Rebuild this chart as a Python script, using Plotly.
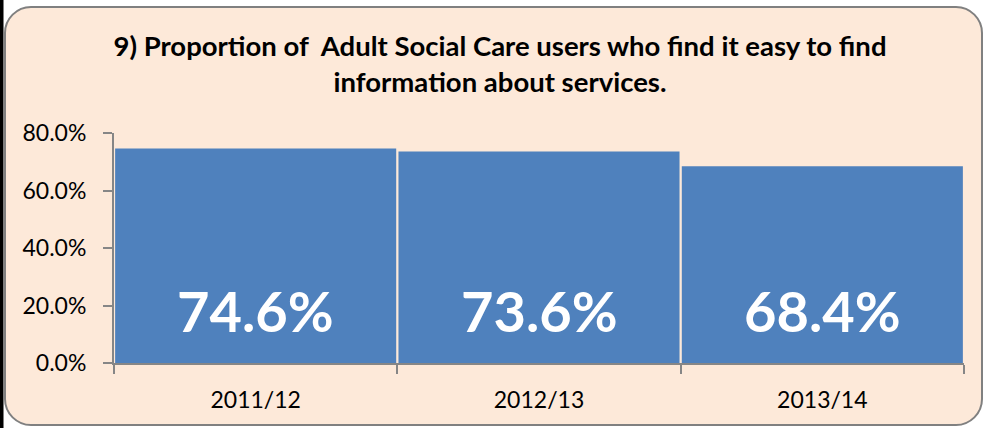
import plotly.graph_objects as go

categories = ["2011/12", "2012/13", "2013/14"]
values = [0.746, 0.736, 0.684]
labels = ["74.6%", "73.6%", "68.4%"]
title_text = "9) Proportion of  Adult Social Care users who find it easy to find<br>information about services."

W, H = 985, 428
L, R, T, B = 114, 21, 133, 65
PW, PH = W - L - R, H - T - B

def px(x):
    return (x - L) / PW

def py(y):
    return (H - B - y) / PH

def rounded_rect(x0, y0, x1, y1, r):
    def P(x, y):
        return f"{px(x):.5f},{py(y):.5f}"
    k = 0.45 * r
    return (
        f"M {P(x0 + r, y0)} L {P(x1 - r, y0)} "
        f"C {P(x1 - k, y0)} {P(x1, y0 + k)} {P(x1, y0 + r)} "
        f"L {P(x1, y1 - r)} "
        f"C {P(x1, y1 - k)} {P(x1 - k, y1)} {P(x1 - r, y1)} "
        f"L {P(x0 + r, y1)} "
        f"C {P(x0 + k, y1)} {P(x0, y1 - k)} {P(x0, y1 - r)} "
        f"L {P(x0, y0 + r)} "
        f"C {P(x0, y0 + k)} {P(x0 + k, y0)} {P(x0 + r, y0)} Z"
    )

FONT = "Lato"

fig = go.Figure()
fig.add_trace(go.Bar(
    x=categories,
    y=values,
    marker=dict(color="#4F81BD", line=dict(width=0)),
    hoverinfo="skip",
))

for cat, lab in zip(categories, labels):
    fig.add_annotation(
        x=cat, y=0, xref="x", yref="y",
        text="<b>" + lab + "</b>",
        showarrow=False, xanchor="center", yanchor="bottom",
        yshift=17,
        font=dict(family=FONT, size=56, color="white"),
    )

fig.update_layout(
    width=W, height=H,
    margin=dict(l=L, r=R, t=T, b=B, pad=0),
    paper_bgcolor="white",
    plot_bgcolor="white",
    bargap=0.008,
    showlegend=False,
    font=dict(family=FONT, color="black"),
    title=dict(
        text="<b>" + title_text + "</b>",
        x=500 / W, xanchor="center",
        y=1 - 56 / H, yanchor="top",
        font=dict(family=FONT, size=27.5, color="black"),
    ),
    xaxis=dict(
        showgrid=False,
        showline=True, linecolor="#868686", linewidth=2,
        ticks="outside", ticklen=9, tickcolor="#868686", tickwidth=2,
        tickson="boundaries",
        tickfont=dict(family=FONT, size=23, color="black"),
        ticklabelstandoff=15,
    ),
    yaxis=dict(
        range=[0, 0.8], dtick=0.2, tickformat=".1%",
        showgrid=False, zeroline=False,
        showline=True, linecolor="#868686", linewidth=2,
        ticks="outside", ticklen=9, tickcolor="#868686", tickwidth=2,
        tickfont=dict(family=FONT, size=23, color="black"),
        ticklabelstandoff=12,
    ),
    shapes=[
        dict(type="path", xref="paper", yref="paper", layer="below",
             path=rounded_rect(5, 7, 982, 425, 26),
             fillcolor="#FDE9D9", line=dict(color="#808080", width=2)),
        dict(type="rect", xref="paper", yref="paper", layer="below",
             x0=px(0), x1=px(3.5), y0=py(0), y1=py(H),
             fillcolor="black", line=dict(width=0)),
    ],
)

fig.write_html(
    "out.html",
    config={"displayModeBar": False},
    post_script="document.body.style.margin='0';document.body.style.overflow='hidden';",
)
